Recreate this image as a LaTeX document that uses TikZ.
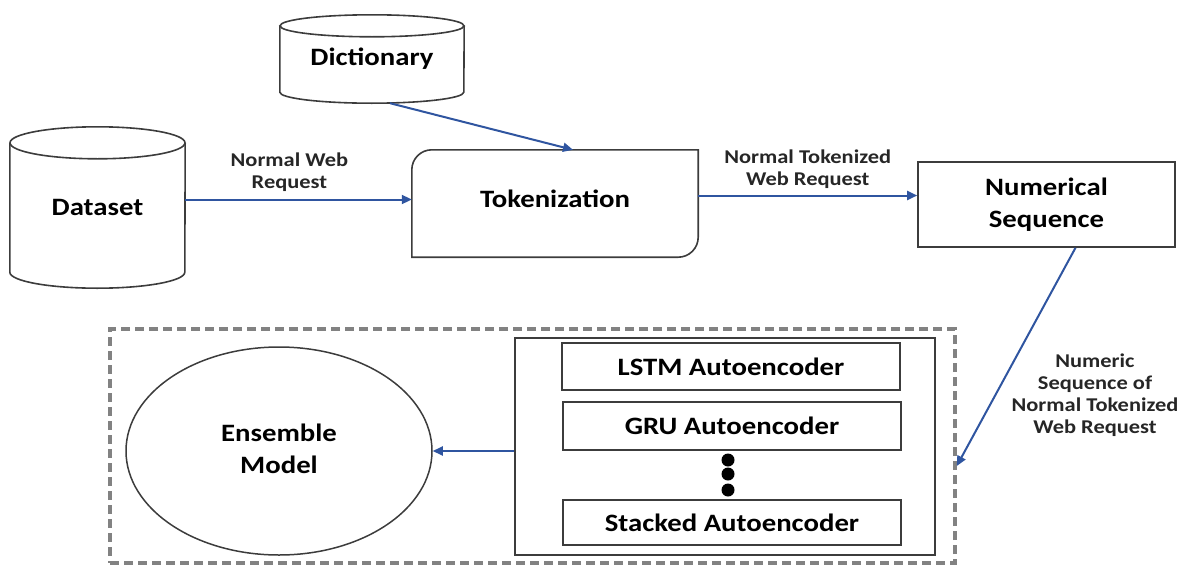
\documentclass[tikz,border=0pt]{standalone}
\usepackage{fontspec}
\setmainfont{Carlito}[FakeStretch=1.15]
\usetikzlibrary{arrows.meta,shapes.geometric}
\definecolor{arrblue}{RGB}{47,85,160}
\definecolor{boxgray}{RGB}{60,60,60}
\definecolor{dashgray}{RGB}{130,130,130}
\tikzset{
  boxline/.style={draw=boxgray,line width=1.6pt},
  bigtxt/.style={font=\fontsize{25}{28}\selectfont\bfseries,align=center},
  lbltxt/.style={font=\fontsize{19.5}{22}\selectfont\bfseries,align=center,text=black!85},
  arr/.style={draw=arrblue,line width=2pt,-{Triangle[length=10pt,width=9pt]}},
  plainbox/.style={boxline,rectangle,inner sep=0pt},
  dashbox/.style={draw=dashgray,line width=3.5pt,dash pattern=on 9pt off 5pt,rectangle,inner sep=0pt},
}
\begin{document}
\begin{tikzpicture}[x=1pt,y=-1pt]
\useasboundingbox (0,0) rectangle (1192,565);
% Dataset cylinder
\node[bigtxt,minimum width=175pt,minimum height=161pt,inner sep=0pt] (ds) at (97.5,207.5) {\raisebox{-4pt}{Dataset}};
\draw[boxline] ([yshift=-16pt]ds.north) ellipse [x radius=87.5pt,y radius=16pt];
\draw[boxline] ([yshift=-16pt]ds.north west) -- ([yshift=16pt]ds.south west) arc[start angle=180,end angle=360,x radius=87.5pt,y radius=16pt] -- ([yshift=-16pt]ds.north east);
% Dictionary cylinder
\node[bigtxt,minimum width=184pt,minimum height=88pt,inner sep=0pt] (dict) at (372,59) {Dictionary};
\draw[boxline] ([yshift=-11pt]dict.north) ellipse [x radius=92pt,y radius=11pt];
\draw[boxline] ([yshift=-11pt]dict.north west) -- ([yshift=11pt]dict.south west) arc[start angle=180,end angle=360,x radius=92pt,y radius=11pt] -- ([yshift=-11pt]dict.north east);
% Tokenization
\node[bigtxt,minimum width=286pt,minimum height=107pt,inner sep=0pt] (tok) at (555,203.5) {\raisebox{10pt}{Tokenization}};
\draw[boxline] (tok.south west) -- ([yshift=-20pt]tok.north west) arc[start angle=180,end angle=90,radius=20pt] -- (tok.north east) -- ([yshift=20pt]tok.south east) arc[start angle=0,end angle=-90,radius=20pt] -- cycle;
% Numerical Sequence
\node[plainbox,bigtxt,minimum width=257pt,minimum height=85pt] (num) at (1046.5,204.5) {\raisebox{4pt}{Numerical}\\Sequence};
% Dashed group
\node[dashbox,minimum width=845pt,minimum height=234pt] (grp) at (532.5,446) {};
% Inner box
\node[plainbox,minimum width=420pt,minimum height=217pt] (inner) at (725,446.5) {};
\node[plainbox,bigtxt,minimum width=338pt,minimum height=47pt] (lstm) at (731,366.5) {LSTM Autoencoder};
\node[plainbox,bigtxt,minimum width=338pt,minimum height=48pt] (gru) at (732,426) {GRU Autoencoder};
\node[plainbox,bigtxt,minimum width=338pt,minimum height=45pt] (stk) at (732,522.5) {Stacked Autoencoder};
\fill (728,460) circle (6.5pt);
\fill (728,474) circle (6.5pt);
\fill (728,490) circle (6.5pt);
% Ensemble
\node[draw=boxgray,line width=1.5pt,ellipse,bigtxt,minimum width=306pt,minimum height=208pt,inner sep=0pt] (ens) at (279,451) {\raisebox{8pt}{Ensemble}\\\raisebox{4pt}{Model}};
% arrows
\draw[arr] ([yshift=4pt]ds.east |- tok.west) -- node[lbltxt,above=4pt,pos=0.46] {Normal Web\\Request} ([yshift=4pt]tok.west);
\draw[arr] ([xshift=18pt]dict.south) -- ([xshift=18pt]tok.north);
\draw[arr] ([yshift=8pt]tok.east) -- node[lbltxt,above=3pt] {Normal Tokenized\\Web Request} ([yshift=8pt]tok.east -| num.west);
\draw[arr] ([xshift=29pt]num.south) -- ([yshift=-20pt]grp.east);
\node[lbltxt] (lbl4) at (1095,395) {Numeric\\Sequence of\\Normal Tokenized\\Web Request};
\draw[arr] (inner.west |- ens.east) -- (ens.east);
\end{tikzpicture}
\end{document}
